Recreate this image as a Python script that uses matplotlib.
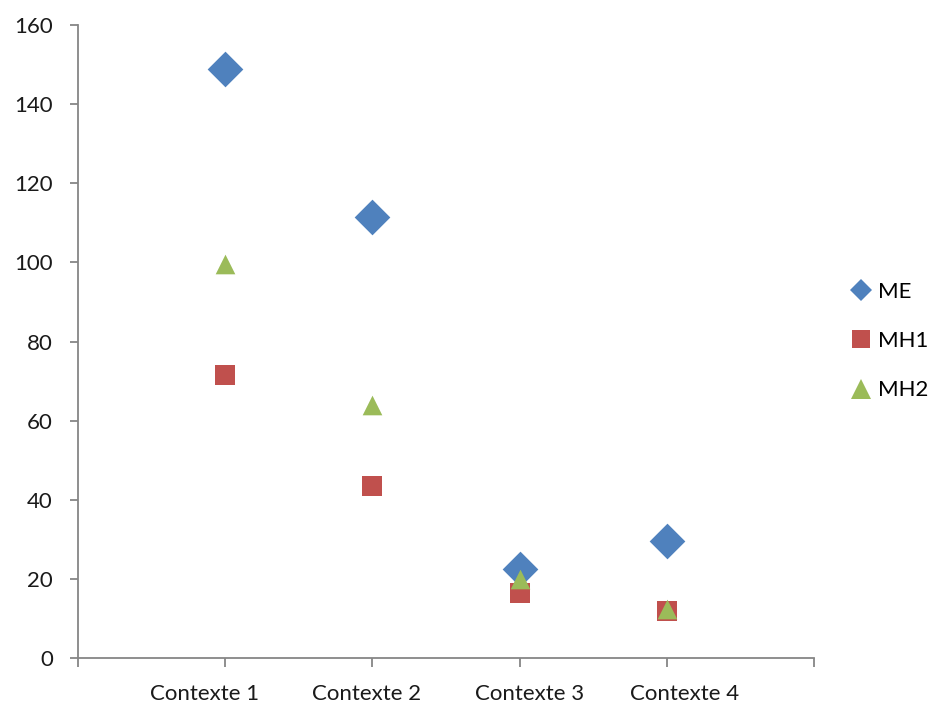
import matplotlib
matplotlib.use("Agg")
import matplotlib.pyplot as plt
from matplotlib.lines import Line2D

categories = ["Contexte 1", "Contexte 2", "Contexte 3", "Contexte 4"]
me = [149, 111.5, 22.5, 29.5]
mh1 = [71.5, 43.5, 16.5, 12]
mh2 = [99.5, 64, 20, 12.5]
y_ticks = [0, 20, 40, 60, 80, 100, 120, 140, 160]

# where the category names sit along the x axis (slightly apart from the ticks)
label_x = [0.86, 1.96, 3.07, 4.12]

plt.rcParams["font.family"] = ["Lato", "DejaVu Sans"]

fig = plt.figure(figsize=(9.31, 7.07), dpi=100)
ax = fig.add_axes([78 / 931, 1 - 658 / 707, (814 - 78) / 931, (658 - 25) / 707])

xs = list(range(1, len(categories) + 1))
ax.scatter(xs, me, marker="D", s=330, color="#4F81BD", zorder=3, linewidths=0)
ax.scatter(xs, mh1, marker="s", s=210, color="#C0504D", zorder=3, linewidths=0)
ax.scatter(xs, mh2, marker="^", s=200, color="#9BBB59", zorder=4, linewidths=0)

ax.set_xlim(0, len(categories) + 1)
ax.set_ylim(0, 160)
ax.set_yticks(y_ticks)
ax.set_xticks(range(0, len(categories) + 2))
ax.set_xticklabels([])
ax.set_xticks(label_x, minor=True)
ax.set_xticklabels(categories, minor=True)

for side in ("top", "right"):
    ax.spines[side].set_visible(False)
for side in ("left", "bottom"):
    ax.spines[side].set_color("#868686")
    ax.spines[side].set_linewidth(1.3)

ax.tick_params(axis="y", direction="out", length=6, width=1.3, color="#868686",
               labelsize=16, pad=12, labelcolor="#1a1a1a")
ax.tick_params(axis="x", which="major", direction="out", length=6.5, width=1.3,
               color="#868686")
ax.tick_params(axis="x", which="minor", length=0, labelsize=16, pad=19,
               labelcolor="#1a1a1a")

handles = [
    Line2D([], [], marker="D", linestyle="none", markersize=11, color="#4F81BD", markeredgewidth=0),
    Line2D([], [], marker="s", linestyle="none", markersize=13, color="#C0504D", markeredgewidth=0),
    Line2D([], [], marker="^", linestyle="none", markersize=14, color="#9BBB59", markeredgewidth=0),
]
fig.legend(handles, ["ME", "MH1", "MH2"], loc="center left",
           bbox_to_anchor=(852 / 931, 1 - 341 / 707), frameon=False,
           fontsize=16, handletextpad=0.35, labelspacing=1.32,
           handlelength=0.8, borderpad=0, borderaxespad=0)

fig.savefig("out.png", dpi=100, facecolor="white")
